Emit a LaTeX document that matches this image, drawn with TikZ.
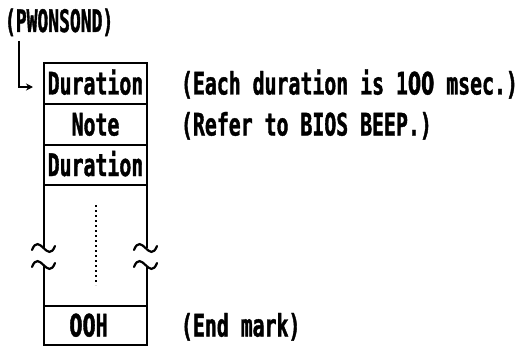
\documentclass[tikz,border=0pt]{standalone}
\usepackage{fontspec}
\usetikzlibrary{arrows.meta}
% condensed heavy monospace, like a printer face
\newfontfamily\prfont[FakeStretch=0.64,FakeBold=1.2]{DejaVu Sans Mono}
\newfontfamily\prnarrow[FakeStretch=0.58,FakeBold=1.2]{DejaVu Sans Mono}
% plain (undotted) zero in the same width
\newfontfamily\przero[FakeStretch=0.61,FakeBold=1.2]{DejaVu Sans}
\newcommand\zr{{\przero\bfseries 0}}
\begin{document}
\begin{tikzpicture}[x=1pt,y=1pt,
  lbl/.style={font=\prfont\bfseries\fontsize{31}{33}\selectfont, inner sep=0pt, outer sep=0pt},
  cell/.style={lbl, draw, line width=1.6pt, minimum width=103pt, text height=22pt, text depth=0pt},
  frame/.style={line width=1.6pt},
  brk/.pic={\draw[line width=2.2pt, line cap=round]
      (-11.5,-2) .. controls (-8,7) and (-4,4) .. (0,0)
      .. controls (4,-4) and (8,-7) .. (11.5,2);}
]
\useasboundingbox (0,0) rectangle (526,346);

% table rows
\node[cell, minimum height=41pt] (d1) at (95.5,262.5) {Duration};
\node[cell, minimum height=41pt] (nt) at (95.5,221.5) {Note};
\node[cell, minimum height=40pt] (d2) at (95.5,181) {Duration};
\node[cell, minimum height=39pt] (em) at (95.5,20.5) {};
\node[lbl, text height=22pt, text depth=0pt] (zz) at ([xshift=-7pt]em.center) {\zr\zr H};

% open section with break marks
\coordinate (lb1) at (44,98);
\coordinate (lb2) at (44,80);
\coordinate (rb1) at (147,98);
\coordinate (rb2) at (147,80);
\draw[frame] (d2.south west) -- (lb1);
\draw[frame] (lb2) -- (em.north west);
\draw[frame] (d2.south east) -- (rb1);
\draw[frame] (rb2) -- (em.north east);
\pic at (43.5,98) {brk};
\pic at (43.5,81) {brk};
\pic at (145.5,98) {brk};
\pic at (145.5,81) {brk};

% continuation dots
\coordinate (dt) at (96,141);
\coordinate (db) at (96,61);
\draw[line width=1.6pt, dash pattern=on 1.6pt off 3.4pt] (dt) -- (db);

% pointer label
\node[lbl, font=\prnarrow\bfseries\fontsize{31}{33}\selectfont, anchor=base west] (pw) at (5,314) {(PWONSOND)};
\coordinate (ah) at (33,259);
\draw[line width=1.4pt, -{Stealth[length=7pt,width=7pt]}] ([xshift=14pt,yshift=-9pt]pw.base west) |- (ah);

% notes
\node[lbl, anchor=base west] (n1) at (181,251.5) {(Each duration is 1\zr\zr{} msec.)};
\node[lbl, anchor=base west] (n2) at (181,210.5) {(Refer to BIOS BEEP.)};
\node[lbl, anchor=base west] (n3) at (181,9.5) {(End mark)};
\end{tikzpicture}
\end{document}
